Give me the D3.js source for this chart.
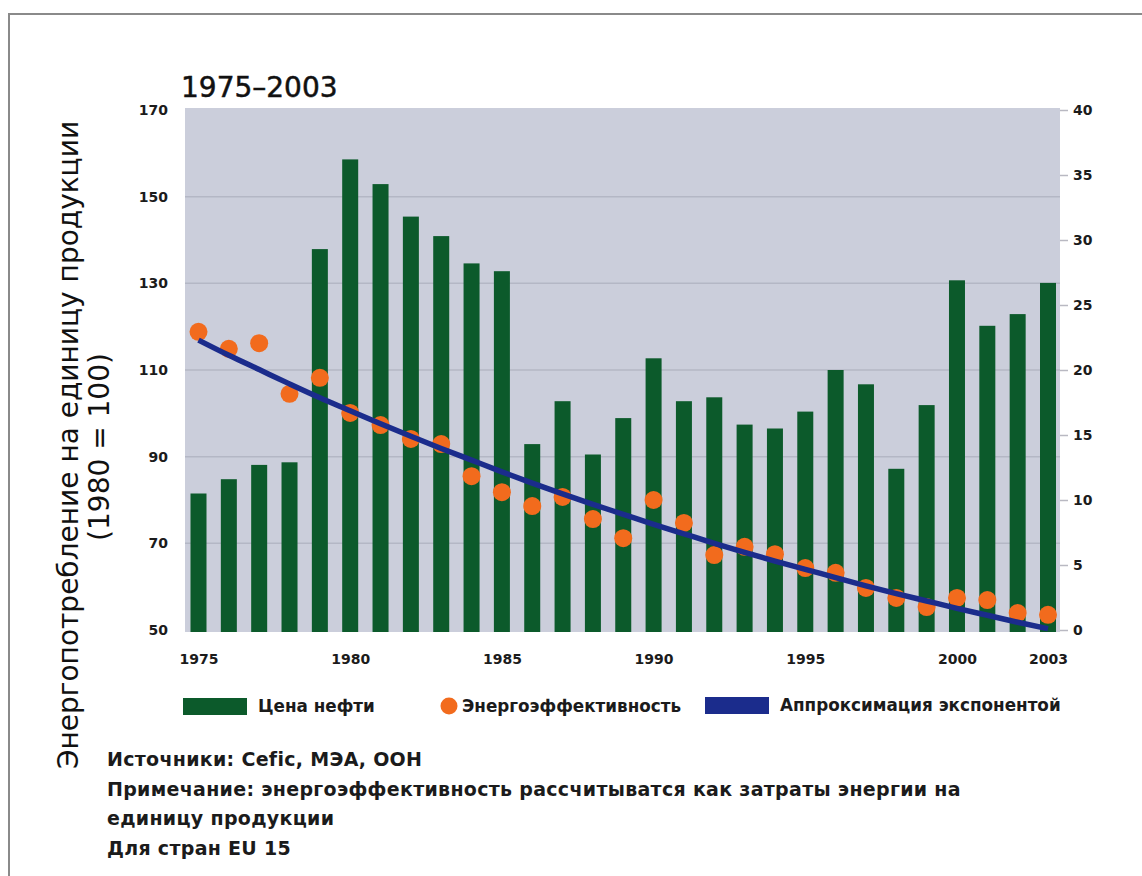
<!DOCTYPE html>
<html><head><meta charset="utf-8">
<script src="https://cdn.jsdelivr.net/npm/d3@7"></script>
<style>
html,body{margin:0;padding:0;background:#fff;}
svg{display:block;}
</style></head>
<body>
<svg id="chart" width="1142" height="876"></svg>
<script>
// ---- data ----
const years = [1975,1976,1977,1978,1979,1980,1981,1982,1983,1984,1985,1986,1987,1988,1989,1990,1991,1992,1993,1994,1995,1996,1997,1998,1999,2000,2001,2002,2003];
const oilPrice = [10.5,11.6,12.7,12.9,29.3,36.2,34.3,31.8,30.3,28.2,27.6,14.3,17.6,13.5,16.3,20.9,17.6,17.9,15.8,15.5,16.8,20.0,18.9,12.4,17.3,26.9,23.4,24.3,26.7];
const energyEff = [118.8,114.9,116.2,104.5,108.2,100.1,97.3,94.1,92.9,85.5,81.8,78.6,80.7,75.6,71.2,80.0,74.7,67.3,69.2,67.5,64.3,63.2,59.7,57.4,55.3,57.4,56.9,53.9,53.5];
const expFit = [116.9,113.4,110.1,106.8,103.6,100.6,97.6,94.7,91.9,89.2,86.5,83.9,81.4,79.0,76.7,74.4,72.2,70.0,67.9,65.9,64.0,62.1,60.2,58.4,56.7,55.0,53.4,51.8,50.3];
const xTickYears = [1975,1980,1985,1990,1995,2000,2003];
const leftTicks = [50,70,90,110,130,150,170];
const rightTicks = [0,5,10,15,20,25,30,35,40];
const titleText = "1975–2003";
const yTitle1 = "Энергопотребление на единицу продукции";
const yTitle2 = "(1980 = 100)";
const legendLabels = ["Цена нефти","Энергоэффективность","Аппроксимация экспонентой"];
const notes = ["Источники: Cefic, МЭА, ООН",
  "Примечание: энергоэффективность рассчитыватся как затраты энергии на",
  "единицу продукции",
  "Для стран EU 15"];

// ---- layout ----
const svg = d3.select("#chart");
const plot = {x0:185, x1:1060, yTop:108, yBot:632};
const C = {bg:"#cbcedb", grid:"#b4b7c5", bar:"#0c5a2b", dot:"#f26b1d", line:"#1b2c8c", text:"#1b1b1b"};
const FONT = "'DejaVu Sans', Verdana, sans-serif";

// frame
svg.append("line").attr("x1",8).attr("x2",1142).attr("y1",14).attr("y2",14).attr("stroke","#8a8a8a").attr("stroke-width",2);
svg.append("line").attr("x1",9).attr("x2",9).attr("y1",14).attr("y2",876).attr("stroke","#8a8a8a").attr("stroke-width",2);

const x = d3.scalePoint().domain(years).range([198.5,1048]);
const yL = d3.scaleLinear().domain([50,170]).range([630,110]);
const yR = d3.scaleLinear().domain([0,40]).range([630,110]);

// background
svg.append("rect").attr("x",plot.x0).attr("y",plot.yTop).attr("width",plot.x1-plot.x0).attr("height",plot.yBot-plot.yTop).attr("fill",C.bg);

// grid
svg.append("g").selectAll("line").data(leftTicks.filter(d=>d>50 && d<170)).join("line")
  .attr("x1",plot.x0).attr("x2",plot.x1).attr("y1",d=>yL(d)).attr("y2",d=>yL(d))
  .attr("stroke",C.grid).attr("stroke-width",1.5);

// bars
const bw = 16;
svg.append("g").selectAll("rect").data(years).join("rect")
  .attr("x",(d)=>x(d)-bw/2).attr("width",bw)
  .attr("y",(d,i)=>yR(oilPrice[i])).attr("height",(d,i)=>plot.yBot-yR(oilPrice[i]))
  .attr("fill",C.bar);

// dots
svg.append("g").selectAll("circle").data(years).join("circle")
  .attr("cx",d=>x(d)).attr("cy",(d,i)=>yL(energyEff[i])).attr("r",9).attr("fill",C.dot);

// fit line
const lineGen = d3.line().x((d)=>x(d)).y((d,i)=>yL(expFit[i])).curve(d3.curveMonotoneX);
svg.append("path").datum(years).attr("d",lineGen).attr("fill","none").attr("stroke",C.line).attr("stroke-width",5.5).attr("stroke-linecap","butt");

// axes
const axL = svg.append("g").attr("transform",`translate(168,0)`)
  .call(d3.axisLeft(yL).tickValues(leftTicks).tickSize(0).tickPadding(0));
const axR = svg.append("g").attr("transform",`translate(${plot.x1},0)`)
  .call(d3.axisRight(yR).tickValues(rightTicks).tickSize(8).tickPadding(5));
const axB = svg.append("g").attr("transform",`translate(0,${plot.yBot})`)
  .call(d3.axisBottom(x).tickValues(xTickYears).tickSize(0).tickPadding(22));
[axL,axR,axB].forEach(a=>{
  a.select(".domain").remove();
  a.selectAll("text").attr("font-family",FONT).attr("font-weight","bold").attr("font-size",14).attr("fill",C.text);
});
axR.selectAll(".tick line").attr("stroke","#b9b9c2").attr("stroke-width",1.5);

// title
svg.append("text").attr("x",181).attr("y",97).text(titleText)
  .attr("font-family",FONT).attr("font-size",28).attr("fill","#111")
  .attr("stroke","#111").attr("stroke-width",0.5);

// y title
svg.append("text").attr("transform","translate(78,445) rotate(-90)").attr("text-anchor","middle")
  .attr("font-family",FONT).attr("font-size",28).attr("fill","#111").text(yTitle1);
svg.append("text").attr("transform","translate(109,447) rotate(-90)").attr("text-anchor","middle")
  .attr("font-family",FONT).attr("font-size",28).attr("fill","#111").text(yTitle2);

// legend
const lg = svg.append("g").attr("font-family",FONT).attr("font-weight","bold").attr("font-size",16.8).attr("fill",C.text);
lg.append("rect").attr("x",183).attr("y",698).attr("width",64).attr("height",17).attr("fill",C.bar);
lg.append("text").attr("x",258).attr("y",712).text(legendLabels[0]);
lg.append("circle").attr("cx",449).attr("cy",706).attr("r",8.5).attr("fill",C.dot);
lg.append("text").attr("x",462).attr("y",712).text(legendLabels[1]);
lg.append("rect").attr("x",705).attr("y",697).attr("width",64).attr("height",17).attr("fill",C.line);
lg.append("text").attr("x",780).attr("y",711).text(legendLabels[2]);

// notes
const noteY = [766,796,825,855];
svg.append("g").selectAll("text").data(notes).join("text")
  .attr("x",107).attr("y",(d,i)=>noteY[i]).text(d=>d)
  .attr("font-family",FONT).attr("font-weight","bold").attr("font-size",19).attr("letter-spacing",0.3).attr("fill",C.text);
</script>
</body></html>
